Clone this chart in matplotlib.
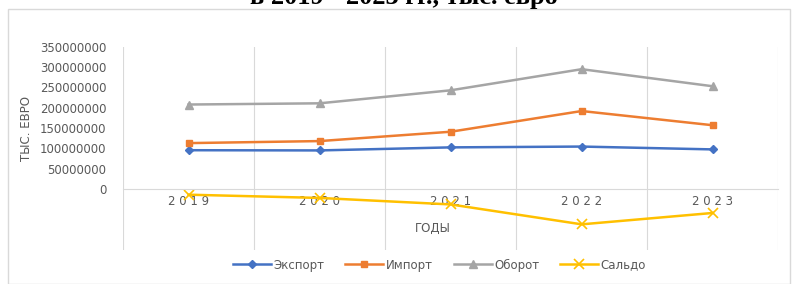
import numpy as np
import matplotlib.pyplot as plt
from matplotlib.patches import Rectangle

# Data
years = ['2019', '2020', '2021', '2022', '2023']
export = [95.5e6, 95e6, 102.5e6, 104.5e6, 97.5e6]
imports = [113e6, 118e6, 141e6, 192e6, 157e6]
turnover = [208e6, 211e6, 243e6, 295e6, 253e6]
saldo = [-14e6, -22e6, -38e6, -87e6, -59e6]

fig = plt.figure(figsize=(7.99, 2.84), dpi=100)
ax = fig.add_axes([0.154, 0.12, 0.82, 0.715])

# chart frame and cut-off title
fig.patches.append(Rectangle((8 / 799, 0), 782 / 799, 1 - 9 / 284, transform=fig.transFigure,
                             fill=False, edgecolor='#d9d9d9', linewidth=1))
fig.text(0.505, 1 - 4 / 284, 'в 2019 - 2023 гг., тыс. евро', ha='center', va='baseline',
         fontsize=19, family='Liberation Serif', fontweight='bold')

x = np.arange(len(years))
ax.plot(x, export, color='#4472C4', marker='D', markersize=4, linewidth=1.8, label='Экспорт')
ax.plot(x, imports, color='#ED7D31', marker='s', markersize=5, linewidth=1.8, label='Импорт')
ax.plot(x, turnover, color='#A5A5A5', marker='^', markersize=6, linewidth=1.8, label='Оборот')
ax.plot(x, saldo, color='#FFC000', marker='x', markersize=7, markeredgewidth=1.2,
        linewidth=1.8, label='Сальдо')

ax.set_xlim(-0.5, 4.5)
ax.set_ylim(-150e6, 350e6)

for b in np.arange(-0.5, 5, 1):
    ax.axvline(b, color='#d9d9d9', linewidth=0.8, zorder=0)

for s in ['top', 'right', 'left']:
    ax.spines[s].set_visible(False)
ax.spines['bottom'].set_position(('data', 0))
ax.spines['bottom'].set_color('#d9d9d9')

ax.set_yticks(np.arange(0, 350e6 + 1, 50e6))
ax.set_yticklabels([str(int(v)) for v in np.arange(0, 350e6 + 1, 50e6)])
ax.set_xticks(x)
ax.set_xticklabels([' '.join(y) for y in years])
ax.tick_params(axis='both', length=0, colors='#595959', labelsize=8.5)
ax.tick_params(axis='y', pad=12)
ax.tick_params(axis='x', pad=4)

fig.text(26 / 799, 1 - 128 / 284, 'ТЫС. ЕВРО', rotation=90, ha='center', va='center',
         fontsize=8.5, color='#595959')
fig.text(433 / 799, 1 - 228 / 284, 'ГОДЫ', ha='center', va='center', fontsize=8.5, color='#595959')

fig.legend(loc='center', bbox_to_anchor=(0.55, 1 - 265 / 284), ncol=4, frameon=False,
           fontsize=8.5, labelcolor='#595959', handlelength=3.2, columnspacing=1.8, handletextpad=0.2)

fig.savefig('out.png', dpi=100)
